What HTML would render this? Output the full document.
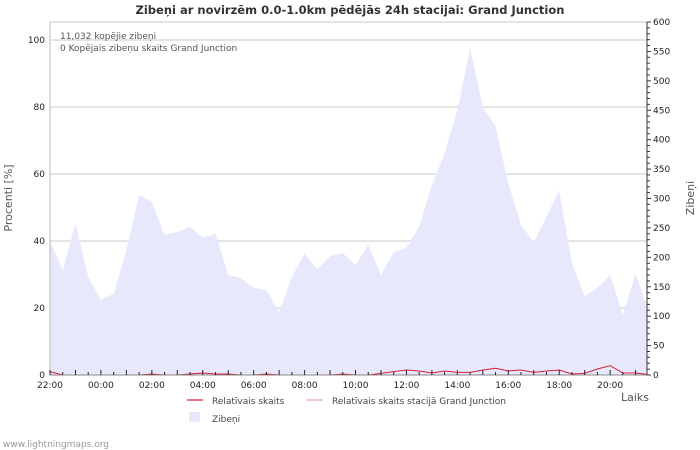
<!DOCTYPE html>
<html><head><meta charset="utf-8"><style>
body{margin:0;background:#fff;}
svg{display:block;font-family:"DejaVu Sans","Liberation Sans",sans-serif;}
</style></head><body>
<svg id="c" width="700" height="450">
<text x="350" y="14" text-anchor="middle" font-size="11.5" font-weight="bold" fill="#333">Zibeņi ar novirzēm 0.0-1.0km pēdējās 24h stacijai: Grand Junction</text>
<g id="grid"></g>
<g id="area"></g>
<g id="lines"></g>
<g id="axes"></g>
<text x="60" y="39" font-size="9" fill="#555">11,032 kopējie zibeņi</text>
<text x="60" y="51" font-size="9" fill="#555">0 Kopējais zibeņu skaits Grand Junction</text>
<text transform="translate(12,198) rotate(-90)" text-anchor="middle" font-size="11" fill="#555">Procenti   [%]</text>
<text transform="translate(694,198) rotate(-90)" text-anchor="middle" font-size="11" fill="#555">Zibeņi</text>
<text x="621" y="401" font-size="11" fill="#555">Laiks</text>
<g><line x1="187" y1="400" x2="203" y2="400" stroke="#d6203a" stroke-width="1.2"/><text x="212" y="404" font-size="9" fill="#444">Relatīvais skaits</text></g>
<g><line x1="307" y1="400" x2="323" y2="400" stroke="#f29999" stroke-width="1.2"/><text x="332" y="404" font-size="9" fill="#444">Relatīvais skaits stacijā Grand Junction</text></g>
<g><rect x="189" y="412" width="11" height="10" fill="#e8e8fc"/><text x="212" y="422" font-size="9" fill="#444">Zibeņi</text></g>
<text x="3" y="447" font-size="9" fill="#999">www.lightningmaps.org</text>
</svg>
<script>
const strikes=[229,178,258,167,128,138,212,306,294,238,243,252,233,240,170,165,148,145,107,167,206,180,202,207,187,221,170,209,216,252,323,377,450,556,455,423,326,255,226,269,314,190,134,148,170,102,173,116];
const relPct=[1,0,0,0,0,0,0,0,0.3,0,0,0.3,0.6,0.3,0.3,0,0,0.3,0,0,0,0,0,0.3,0,0,0.5,1,1.5,1.2,0.6,1.2,0.8,0.8,1.5,2,1.2,1.5,0.8,1.2,1.5,0.3,0.5,1.8,2.8,0.6,0.6,0.2];
const leftTicks=[0,20,40,60,80,100];
const rightTicks=[0,50,100,150,200,250,300,350,400,450,500,550,600];
const xLabels=["22:00","00:00","02:00","04:00","06:00","08:00","10:00","12:00","14:00","16:00","18:00","20:00"];
const L=50,R=647,T=22,B=375,step=12.73;
const xs=i=>L+i*step;
const yl=v=>B-(v-0)*(B-40)/100;
const yr=v=>B-v*(B-T)/600;
const NS="http://www.w3.org/2000/svg";
function mk(p,t,a){const e=document.createElementNS(NS,t);for(const k in a)e.setAttribute(k,a[k]);document.getElementById(p).appendChild(e);return e;}
// area
let d=`M${xs(0)},${B}`;strikes.forEach((v,i)=>d+=`L${Math.min(xs(i),R)},${yr(v)}`);d+=`L${Math.min(xs(strikes.length-1),R)},${B}Z`;
const ar=mk('area','path',{d:d,fill:'#e8e8fc'});


// grid
leftTicks.forEach(v=>{if(v>0){const g=mk('grid','line',{x1:L,x2:R,y1:yl(v),y2:yl(v),stroke:'#c8c8c8'});}
const t=mk('axes','text',{x:45,y:yl(v)+3,'text-anchor':'end','font-size':9,fill:'#222'});t.textContent=v;});
mk('grid','line',{x1:L,x2:R,y1:T,y2:T,stroke:'#c8c8c8'});
mk('axes','line',{x1:L,x2:L,y1:T,y2:B,stroke:'#bbb'});
mk('axes','line',{x1:L,x2:R,y1:B,y2:B,stroke:'#888'});
mk('axes','line',{x1:R,x2:R,y1:T,y2:B,stroke:'#333'});
for(let v=0;v<=600;v+=10){mk('axes','line',{x1:R,x2:R+(v%50?3:4),y1:yr(v),y2:yr(v),stroke:'#333'});}
rightTicks.forEach(v=>{const t=mk('axes','text',{x:653,y:yr(v)+3,'font-size':9,fill:'#222'});t.textContent=v;});
for(let i=0;i<47;i++){mk('axes','line',{x1:xs(i),x2:xs(i),y1:B,y2:B-(i%2?3:5),stroke:'#222'});}
xLabels.forEach((s,k)=>{const t=mk('axes','text',{x:xs(k*4),y:388,'text-anchor':'middle','font-size':9,fill:'#222'});t.textContent=s;});
// relative line
const pts=relPct.map((v,i)=>`${Math.min(xs(i),R)},${yl(v)}`).join(' ');
const pl=mk('lines','polyline',{points:pts,fill:'none',stroke:'#d6203a','stroke-width':1});


</script>
</body></html>
